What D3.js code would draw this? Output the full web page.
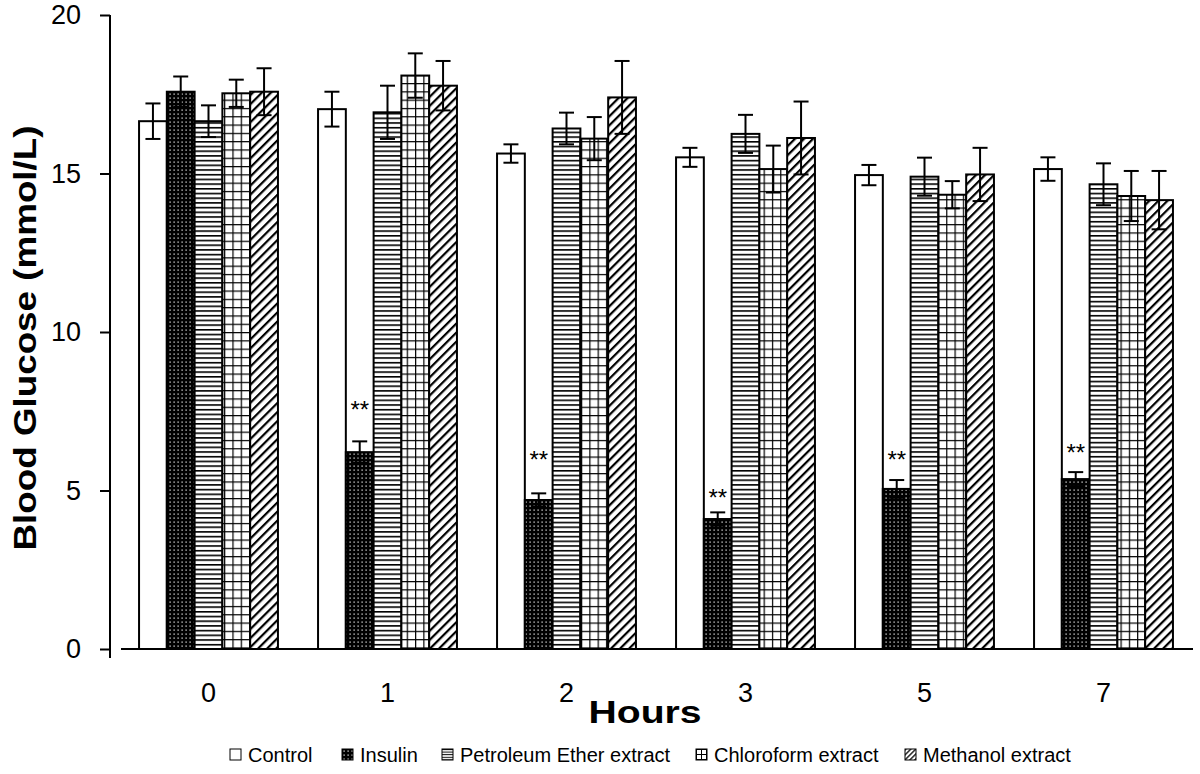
<!DOCTYPE html>
<html>
<head>
<meta charset="utf-8">
<script src="https://cdn.jsdelivr.net/npm/d3@7"></script>
<style>
  html, body { margin: 0; padding: 0; background: #fff; }
  svg { display: block; font-family: "Liberation Sans", Arial, sans-serif; }
</style>
</head>
<body>
<svg id="chart" width="1200" height="774"></svg>
<script>
// ---- data ----
const hours = ["0", "1", "2", "3", "5", "7"];
const seriesNames = ["Control", "Insulin", "Petroleum Ether extract", "Chloroform extract", "Methanol extract"];
const control     = [16.65, 17.03, 15.63, 15.51, 14.95, 15.14];
const insulin     = [17.58, 6.21, 4.70, 4.10, 5.05, 5.36];
const petroleum   = [16.65, 16.93, 16.42, 16.25, 14.90, 14.66];
const chloroform  = [17.53, 18.09, 16.10, 15.14, 14.33, 14.29];
const methanol    = [17.58, 17.77, 17.40, 16.12, 14.97, 14.16];
const controlErr    = [0.56, 0.55, 0.29, 0.30, 0.32, 0.37];
const insulinErr    = [0.48, 0.34, 0.21, 0.21, 0.28, 0.22];
const petroleumErr  = [0.50, 0.84, 0.50, 0.60, 0.60, 0.66];
const chloroformErr = [0.43, 0.70, 0.68, 0.74, 0.43, 0.79];
const methanolErr   = [0.74, 0.78, 1.15, 1.15, 0.84, 0.92];
// significance marker ("**") level in mmol/L, null = none
const sigLevel = [null, 7.7, 6.12, 4.92, 6.12, 6.34];
const sigText = "**";
const yTicks = [0, 5, 10, 15, 20];

const values = [control, insulin, petroleum, chloroform, methanol];
const errs = [controlErr, insulinErr, petroleumErr, chloroformErr, methanolErr];

// ---- layout ----
const svg = d3.select("#chart");
const yAxisX = 110;
const x0 = d3.scaleBand().domain(hours).range([119, 1193]).paddingInner(0.224).paddingOuter(0.112);
const x1 = d3.scaleBand().domain(d3.range(seriesNames.length)).range([0, x0.bandwidth()]);
const y = d3.scaleLinear().domain([0, 20]).range([649, 15]);

// ---- patterns ----
const defs = svg.append("defs");
const pDots = defs.append("pattern").attr("id", "p1").attr("patternUnits", "userSpaceOnUse").attr("width", 4).attr("height", 4);
pDots.append("rect").attr("width", 4).attr("height", 4).attr("fill", "#000");
pDots.append("rect").attr("x", 1.5).attr("y", 1.5).attr("width", 1.2).attr("height", 1.2).attr("fill", "#fff");

const pH = defs.append("pattern").attr("id", "p2").attr("patternUnits", "userSpaceOnUse").attr("width", 8).attr("height", 4.7);
pH.append("rect").attr("width", 8).attr("height", 4.7).attr("fill", "#fff");
pH.append("rect").attr("y", 0).attr("width", 8).attr("height", 1.6).attr("fill", "#000");

const pG = defs.append("pattern").attr("id", "p3").attr("patternUnits", "userSpaceOnUse").attr("width", 8.3).attr("height", 8.3);
pG.append("rect").attr("width", 8.3).attr("height", 8.3).attr("fill", "#fff");
pG.append("rect").attr("width", 8.3).attr("height", 1.2).attr("fill", "#000");
pG.append("rect").attr("width", 1.2).attr("height", 8.3).attr("fill", "#000");

const pD = defs.append("pattern").attr("id", "p4").attr("patternUnits", "userSpaceOnUse").attr("width", 6.4).attr("height", 10).attr("patternTransform", "rotate(45)");
pD.append("rect").attr("width", 6.4).attr("height", 10).attr("fill", "#fff");
pD.append("rect").attr("x", 0).attr("width", 2.2).attr("height", 10).attr("fill", "#000");

// small legend patterns
const lpH = defs.append("pattern").attr("id", "lp2").attr("patternUnits", "userSpaceOnUse").attr("width", 4).attr("height", 2.6);
lpH.append("rect").attr("width", 4).attr("height", 2.6).attr("fill", "#fff");
lpH.append("rect").attr("width", 4).attr("height", 1).attr("fill", "#000");
const lpG = defs.append("pattern").attr("id", "lp3").attr("patternUnits", "userSpaceOnUse").attr("width", 5).attr("height", 5);
lpG.append("rect").attr("width", 5).attr("height", 5).attr("fill", "#fff");
lpG.append("rect").attr("width", 5).attr("height", 1).attr("fill", "#000");
lpG.append("rect").attr("width", 1).attr("height", 5).attr("fill", "#000");
const lpD = defs.append("pattern").attr("id", "lp4").attr("patternUnits", "userSpaceOnUse").attr("width", 3.5).attr("height", 6).attr("patternTransform", "rotate(45)");
lpD.append("rect").attr("width", 3.5).attr("height", 6).attr("fill", "#fff");
lpD.append("rect").attr("width", 1.3).attr("height", 6).attr("fill", "#000");

const fills = ["#fff", "url(#p1)", "url(#p2)", "url(#p3)", "url(#p4)"];
const legendFills = ["#fff", "url(#p1)", "url(#lp2)", "url(#lp3)", "url(#lp4)"];

// ---- bars ----
const flat = [];
hours.forEach((h, gi) => {
  values.forEach((vals, si) => {
    flat.push({ h, gi, si, v: vals[gi], e: errs[si][gi] });
  });
});

const gBars = svg.append("g");
gBars.selectAll("rect").data(flat).join("rect")
  .attr("x", d => x0(d.h) + x1(d.si))
  .attr("y", d => y(d.v))
  .attr("width", x1.bandwidth())
  .attr("height", d => y(0) - y(d.v))
  .attr("fill", d => fills[d.si])
  .attr("stroke", "#000")
  .attr("stroke-width", 2);

// ---- error bars ----
const gErr = svg.append("g").attr("stroke", "#000").attr("stroke-width", 2);
const capW = 7.5;
flat.forEach(d => {
  const cx = x0(d.h) + x1(d.si) + x1.bandwidth() / 2;
  gErr.append("line").attr("x1", cx).attr("x2", cx).attr("y1", y(d.v + d.e)).attr("y2", y(d.v - d.e));
  gErr.append("line").attr("x1", cx - capW).attr("x2", cx + capW).attr("y1", y(d.v + d.e)).attr("y2", y(d.v + d.e));
  gErr.append("line").attr("x1", cx - capW).attr("x2", cx + capW).attr("y1", y(d.v - d.e)).attr("y2", y(d.v - d.e));
});

// ---- significance markers ----
svg.append("g").selectAll("text").data(hours.map((h, i) => ({ h, s: sigLevel[i] })).filter(d => d.s != null))
  .join("text")
  .attr("x", d => x0(d.h) + x1(1) + x1.bandwidth() / 2)
  .attr("y", d => y(d.s) + 13)
  .attr("text-anchor", "middle")
  .attr("font-size", 24)
  .text(sigText);

// ---- axes ----
svg.append("line").attr("x1", 121).attr("x2", 1193).attr("y1", y(0)).attr("y2", y(0))
  .attr("stroke", "#000").attr("stroke-width", 2);

const yAxis = svg.append("g").attr("transform", `translate(${yAxisX},0)`)
  .call(d3.axisLeft(y).tickValues(yTicks).tickSize(10).tickPadding(19).tickFormat(d3.format("d")));
yAxis.select(".domain").remove();
yAxis.append("line").attr("x1", 0).attr("x2", 0).attr("y1", y(20)).attr("y2", 658).attr("stroke", "#000").attr("stroke-width", 2);
yAxis.selectAll(".tick line").attr("stroke", "#000").attr("stroke-width", 2);
yAxis.selectAll(".tick text").attr("font-size", 27).attr("fill", "#000").attr("font-family", "Liberation Sans, Arial, sans-serif");

const xAxis = svg.append("g").attr("transform", `translate(0,${y(0)})`)
  .call(d3.axisBottom(x0).tickSize(0).tickPadding(34));
xAxis.select(".domain").remove();
xAxis.selectAll(".tick text").attr("font-size", 27).attr("fill", "#000").attr("font-family", "Liberation Sans, Arial, sans-serif");

// axis titles
svg.append("text").attr("x", 645).attr("y", 723).attr("text-anchor", "middle")
  .attr("font-size", 31).attr("font-weight", "bold")
  .attr("textLength", 113).attr("lengthAdjust", "spacingAndGlyphs").text("Hours");
svg.append("text").attr("transform", `translate(36,338) rotate(-90)`).attr("text-anchor", "middle")
  .attr("font-size", 31).attr("font-weight", "bold")
  .attr("textLength", 425).attr("lengthAdjust", "spacingAndGlyphs").text("Blood Glucose (mmol/L)");

// ---- legend ----
const legendX = [230, 342, 442, 696, 905];
const leg = svg.append("g");
seriesNames.forEach((name, i) => {
  const g = leg.append("g").attr("transform", `translate(${legendX[i]},749)`);
  g.append("rect").attr("width", 11).attr("height", 11).attr("fill", legendFills[i]).attr("stroke", "#000").attr("stroke-width", 1);
  g.append("text").attr("x", 18).attr("y", 12.5).attr("font-size", 20).text(name);
});
</script>
</body>
</html>
